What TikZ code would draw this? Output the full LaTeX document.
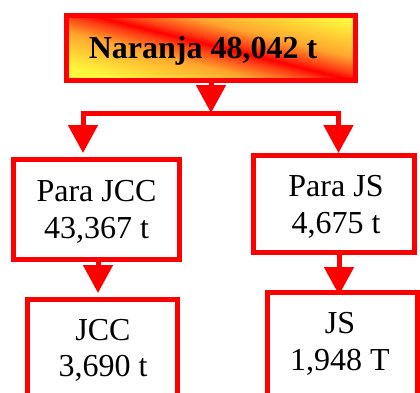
\documentclass[tikz,border=0pt]{standalone}
\usepackage{fontspec}
\setmainfont{Liberation Serif}
\usetikzlibrary{arrows.meta}
\definecolor{ylw}{RGB}{255,245,60}
\definecolor{org}{RGB}{255,165,45}
\definecolor{rorg}{RGB}{255,60,20}
\pgfdeclareverticalshading{redband}{100bp}{color(0bp)=(ylw); color(25bp)=(ylw);
  color(40bp)=(org); color(47bp)=(rorg); color(50bp)=(red); color(53bp)=(rorg);
  color(60bp)=(org); color(75bp)=(ylw); color(100bp)=(ylw)}
\begin{document}
\begin{tikzpicture}[x=1pt,y=-1pt,
  box/.style={draw=red,line width=5pt,fill=white,inner sep=0pt},
  lbl/.style={font=\fontsize{32}{38}\selectfont,anchor=base,inner sep=0pt},
  conn/.style={draw=red,line width=5pt,line join=miter,
    -{Triangle[width=29pt,length=28pt]}},
  diagshade/.style={shading=redband}]
\useasboundingbox (0,0) rectangle (420,392);
\clip (0,0) rectangle (420,392);
% gradient fill of the top box
\begin{scope}
  \clip (66.5,15.5) rectangle (355.5,80.5);
  \fill[ylw] (66.5,15.5) rectangle (355.5,80.5);
  \shade[diagshade,transform canvas={rotate around={-14:(223,48)}}]
    (-37,-7) rectangle (483,103);
\end{scope}
% boxes
\node[box,fill=none,minimum width=289pt,minimum height=65pt]
  (top) at (211,48) {};
\node[font=\bfseries\fontsize{32}{38}\selectfont,anchor=base,inner sep=0pt]
  (toplabel) at (203,58) {Naranja 48,042 t};
\node[box,minimum width=166pt,minimum height=100pt] (pl) at (96.5,209.5) {};
\node[box,minimum width=161pt,minimum height=97pt] (pr) at (334,204) {};
\node[box,minimum width=150pt,minimum height=130.5pt] (bl) at (102.5,364.75) {};
\node[box,minimum width=150pt,minimum height=137.5pt] (br) at (342.5,361.25) {};
% labels
\node[lbl] (pl1) at (96.5,201.7) {Para JCC};
\node[lbl] (pl2) at (96.5,238) {43,367 t};
\node[lbl] (pr1) at (336,196.7) {Para JS};
\node[lbl] (pr2) at (336,233) {4,675 t};
\node[lbl] (bl1) at (103,340) {JCC};
\node[lbl] (bl2) at (103,376.7) {3,690 t};
\node[lbl] (br1) at (340,333) {JS};
\node[lbl] (br2) at (340,370) {1,948 T};
% connectors
\coordinate (split) at (211,113);
\coordinate (lt) at (83,153);
\coordinate (rt) at (338.5,153);
\coordinate (lx) at (98,0);
\coordinate (rx) at (339,0);
\draw[conn] (top.south) -- (split);
\draw[conn] (split) -| (lt);
\draw[conn] (split) -| (rt);
\draw[conn,shorten >=4pt] (pl.south -| lx) -- (bl.north -| lx);
\draw[conn,shorten >=-5pt] (pr.south -| rx) -- (br.north -| rx);
\end{tikzpicture}
\end{document}
